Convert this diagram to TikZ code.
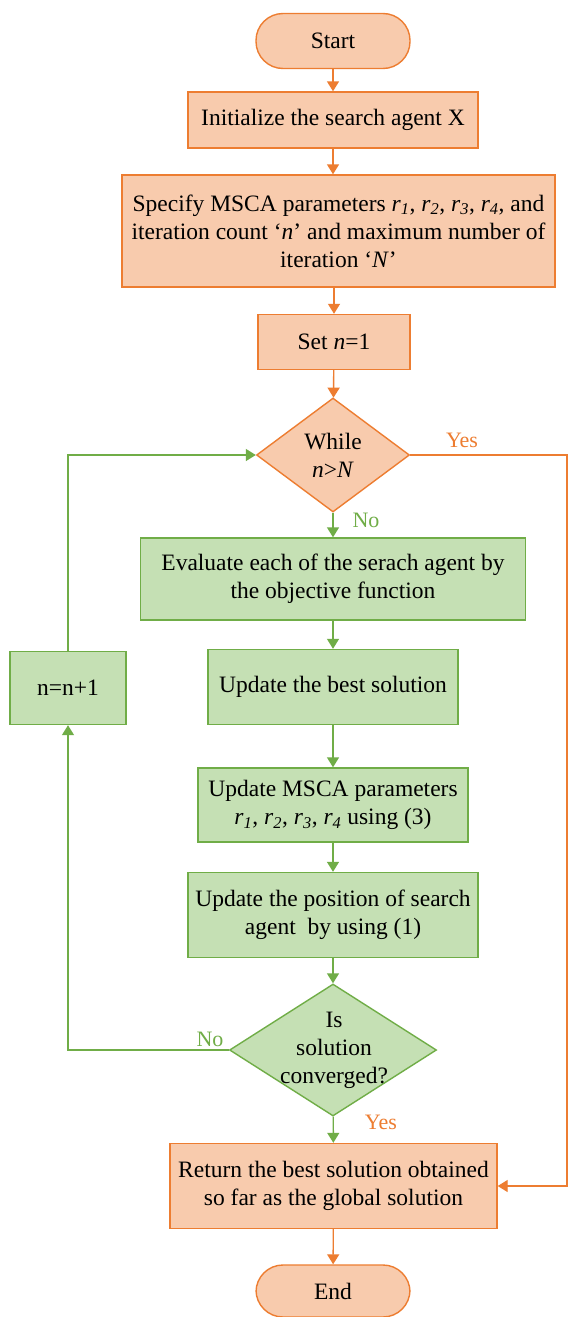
\documentclass[tikz,border=0pt]{standalone}
\usepackage{fontspec}
\setmainfont{Liberation Serif}
\usetikzlibrary{shapes.geometric,arrows.meta}
\definecolor{ofill}{HTML}{F8CBAD}
\definecolor{oline}{HTML}{ED7D31}
\definecolor{gfill}{HTML}{C5E0B4}
\definecolor{gline}{HTML}{70AD47}
\newcommand\rsub[1]{\textit{r}\textsubscript{\textit{#1}}}
\begin{document}
\begin{tikzpicture}[x=1pt,y=-1pt,
  font=\fontsize{23.5}{28}\selectfont,
  obox/.style={draw=oline,fill=ofill,line width=1.4pt,align=center,inner sep=0pt},
  gbox/.style={draw=gline,fill=gfill,line width=1.4pt,align=center,inner sep=0pt},
  term/.style={obox,rounded corners=27pt},
  odia/.style={draw=oline,fill=ofill,line width=1.4pt,diamond,inner sep=0pt},
  gdia/.style={draw=gline,fill=gfill,line width=1.4pt,diamond,inner sep=0pt},
  oarr/.style={draw=oline,line width=1.4pt,-{Triangle[width=12pt,length=10pt]}},
  garr/.style={draw=gline,line width=1.4pt,-{Triangle[width=12pt,length=10pt]}},
  olab/.style={text=oline,font=\fontsize{22}{24}\selectfont},
  glab/.style={text=gline,font=\fontsize{22}{24}\selectfont}]
\useasboundingbox (0,0) rectangle (568,1317);
\fill[white] (0,0) rectangle (568,1317);

\node[term,minimum width=154pt,minimum height=55pt] (start) at (333,41) {Start};
\node[obox,minimum width=290pt,minimum height=56pt] (init) at (333,120) {Initialize the search agent X};
\node[obox,minimum width=433pt,minimum height=112pt] (spec) at (338.5,231) {Specify MSCA parameters \rsub{1}, \rsub{2}, \rsub{3}, \rsub{4}, and\\ iteration count ‘\textit{n}’ and maximum number of\\ iteration ‘\textit{N}’};
\node[obox,minimum width=152pt,minimum height=55pt] (set) at (334,342) {Set \textit{n}=1};
\node[odia,minimum width=153pt,minimum height=114pt] (while) at (333,455) {};
\node[align=center] (whiletext) at (333,455) {While\\ \textit{n}>\textit{N}};
\node[gbox,minimum width=385pt,minimum height=82pt] (eval) at (333,579) {Evaluate each of the serach agent by\\ the objective function};
\node[gbox,minimum width=250pt,minimum height=75pt] (best) at (333,687) {Update the best solution};
\node[gbox,minimum width=270pt,minimum height=74pt] (msca) at (333,805) {Update MSCA parameters\\ \rsub{1}, \rsub{2}, \rsub{3}, \rsub{4} using (3)};
\node[gbox,minimum width=290pt,minimum height=85pt] (pos) at (333,915) {Update the position of search\\ agent\ \ by using (1)};
\node[gdia,minimum width=207pt,minimum height=132pt] (is) at (333,1050) {};
\node[align=center] (istext) at (334,1050) {Is\\ solution\\ converged?};
\node[obox,minimum width=327pt,minimum height=85pt] (ret) at (333.5,1186) {Return the best solution obtained\\ so far as the global solution};
\node[term,minimum width=154pt,minimum height=52pt] (end) at (333,1291) {End};
\node[gbox,minimum width=116pt,minimum height=73pt] (nn) at (68,688) {n=n+1};

\coordinate (rt) at (567,455);
\coordinate (lt) at (68,1050);

\draw[oarr] (start) -- (init);
\draw[oarr] (init) -- (spec.north -| init);
\draw[oarr] (spec.south -| set) -- (set);
\draw[oarr] (set) -- (while);
\draw[garr] (while) -- (eval);
\draw[garr] (eval) -- (best);
\draw[garr] (best) -- (msca);
\draw[garr] (msca) -- (pos);
\draw[garr] (pos) -- (is);
\draw[garr] (is) -- (ret);
\draw[oarr] (ret) -- (end);
\draw[oarr] (while.east) -- (rt) |- (ret.east);
\draw[garr] (is.west) -- (lt) -- (nn.south);
\draw[garr] (nn.north) |- (while.west);

\node[olab] (yes1) at (462,440) {Yes};
\node[glab] (no1) at (366,520) {No};
\node[glab] (no2) at (210,1039) {No};
\node[olab] (yes2) at (381,1122) {Yes};
\end{tikzpicture}
\end{document}
